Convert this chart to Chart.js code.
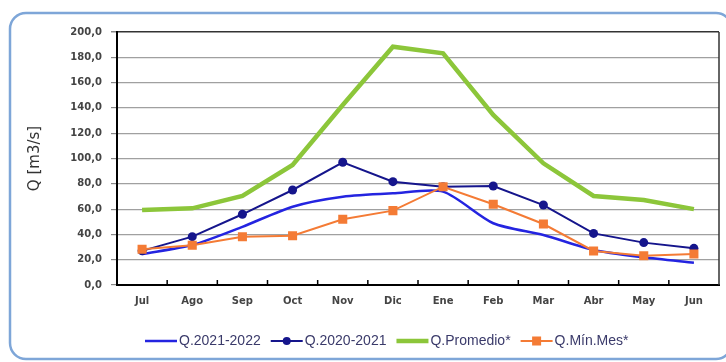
<!DOCTYPE html>
<html>
<head>
<meta charset="utf-8">
<title>Caudales mensuales</title>
<script src="https://cdn.jsdelivr.net/npm/chart.js@4.4.1/dist/chart.umd.min.js"></script>
<style>
  html, body { margin: 0; padding: 0; background: #ffffff; }
  #caudalChart { display: block; }
</style>
</head>
<body>
<canvas id="caudalChart" width="726" height="362"></canvas>
<script>
// months of the hydrological year (Jul - Jun)
const months = ['Jul', 'Ago', 'Sep', 'Oct', 'Nov', 'Dic', 'Ene', 'Feb', 'Mar', 'Abr', 'May', 'Jun'];

// flows in m3/s
const q2122 = [24.5, 31.6, 46.0, 61.9, 69.8, 72.5, 73.8, 48.8, 39.5, 27.7, 21.9, 17.6];
const q2021 = [27.0, 38.2, 55.9, 75.1, 97.0, 81.7, 77.7, 78.3, 63.2, 40.8, 33.5, 29.0];
const qPromedio = [59.3, 60.6, 70.4, 94.9, 142.3, 188.4, 183.2, 134.4, 96.2, 70.4, 67.2, 60.0];
const qMinMes = [28.2, 31.4, 38.2, 39.0, 51.9, 58.8, 77.7, 63.8, 48.2, 26.9, 23.2, 24.5];

const yTicks = [0, 20, 40, 60, 80, 100, 120, 140, 160, 180, 200];

const tickFont = { family: 'DejaVu Sans', size: 10, weight: 'bold' };

// rounded light-blue frame around the whole chart
const frame = {
  id: 'frame',
  beforeDraw(chart) {
    const ctx = chart.ctx;
    ctx.save();
    ctx.fillStyle = '#ffffff';
    ctx.fillRect(0, 0, chart.width, chart.height);
    ctx.strokeStyle = '#7ea6d8';
    ctx.lineWidth = 2.5;
    ctx.beginPath();
    ctx.roundRect(10, 13, 722, 346, 16);
    ctx.stroke();
    ctx.restore();
  },
  beforeDatasetsDraw(chart) {
    const { ctx, chartArea: a, scales: { x } } = chart;
    ctx.save();
    // right edge of the plot box
    ctx.strokeStyle = '#333333';
    ctx.lineWidth = 1.5;
    ctx.beginPath();
    ctx.moveTo(a.right, a.top);
    ctx.lineTo(a.right, a.bottom);
    ctx.stroke();
    // short category separators standing on the x axis
    ctx.strokeStyle = '#000000';
    ctx.lineWidth = 1.5;
    for (let i = 1; i < months.length; i++) {
      const px = (x.getPixelForValue(i - 1) + x.getPixelForValue(i)) / 2;
      ctx.beginPath();
      ctx.moveTo(px, a.bottom);
      ctx.lineTo(px, a.bottom - 5);
      ctx.stroke();
    }
    ctx.restore();
  }
};

// legend row: line sample with optional marker, then label
const lineLegend = {
  id: 'lineLegend',
  afterDraw(chart) {
    const ctx = chart.ctx;
    const items = chart.data.datasets.slice().sort((a, b) => a.legendIndex - b.legendIndex);
    ctx.save();
    ctx.font = '14px "Liberation Sans"';
    ctx.textBaseline = 'middle';
    let x = 145;
    const y = 341;
    items.forEach(ds => {
      ctx.strokeStyle = ds.borderColor;
      ctx.lineWidth = ds.borderWidth;
      ctx.beginPath();
      ctx.moveTo(x, y);
      ctx.lineTo(x + 32, y);
      ctx.stroke();
      if (ds.pointRadius > 0) {
        ctx.fillStyle = ds.pointBackgroundColor;
        if (ds.pointStyle === 'rect') {
          ctx.fillRect(x + 16 - 4.5, y - 4.5, 9, 9);
        } else {
          ctx.beginPath();
          ctx.arc(x + 16, y, 4, 0, Math.PI * 2);
          ctx.fill();
        }
      }
      ctx.fillStyle = '#3a3a6a';
      ctx.fillText(ds.label, x + 34, y);
      x += 34 + ctx.measureText(ds.label).width + 10;
    });
    ctx.restore();
  }
};

const ctx = document.getElementById('caudalChart').getContext('2d');
const chart = new Chart(ctx, {
  type: 'line',
  data: {
    labels: months,
    datasets: [
      {
        label: 'Q.2021-2022',
        data: q2122,
        borderColor: '#2424e0',
        borderWidth: 2.5,
        pointRadius: 0,
        tension: 0.25,
        order: 4,
        legendIndex: 0
      },
      {
        label: 'Q.2020-2021',
        data: q2021,
        borderColor: '#15158c',
        borderWidth: 2,
        pointRadius: 4.5,
        pointStyle: 'circle',
        pointBackgroundColor: '#15158c',
        pointBorderColor: '#15158c',
        pointBorderWidth: 0,
        tension: 0,
        order: 3,
        legendIndex: 1
      },
      {
        label: 'Q.Promedio*',
        data: qPromedio,
        borderColor: '#8cc63a',
        borderWidth: 4.5,
        pointRadius: 0,
        tension: 0,
        order: 2,
        legendIndex: 2
      },
      {
        label: 'Q.Mín.Mes*',
        data: qMinMes,
        borderColor: '#f47b35',
        borderWidth: 2,
        pointRadius: 6.4,
        pointStyle: 'rect',
        pointBackgroundColor: '#f47b35',
        pointBorderColor: '#f47b35',
        pointBorderWidth: 0,
        tension: 0,
        order: 1,
        legendIndex: 3
      }
    ]
  },
  options: {
    responsive: false,
    animation: false,
    devicePixelRatio: 1,
    layout: { padding: { left: 0, top: 32, right: 7, bottom: 0 } },
    plugins: {
      legend: { display: false },
      tooltip: { enabled: false }
    },
    scales: {
      x: {
        offset: true,
        grid: { display: false, drawTicks: false },
        border: { display: true, color: '#000000', width: 2 },
        ticks: {
          font: tickFont,
          color: '#444444',
          padding: 10,
          maxRotation: 0,
          autoSkip: false
        },
        afterFit(scale) { scale.height = 77; }
      },
      y: {
        min: 0,
        max: 200,
        afterBuildTicks(scale) { scale.ticks = yTicks.map(v => ({ value: v })); },
        grid: {
          color: c => (c.tick && c.tick.value === 200 ? '#333333' : '#a0a0a0'),
          lineWidth: c => (c.tick && c.tick.value === 200 ? 1.5 : 1.2),
          tickLength: 6,
          tickColor: '#888888'
        },
        border: { display: true, color: '#000000', width: 2 },
        ticks: {
          font: tickFont,
          color: '#444444',
          padding: 9,
          callback: v => v.toFixed(1).replace('.', ',')
        },
        title: {
          display: true,
          text: 'Q [m3/s]',
          font: { family: 'DejaVu Sans', size: 15 },
          color: '#333333',
          padding: { top: 26, bottom: 0 }
        },
        afterFit(scale) { scale.width = 117; }
      }
    }
  },
  plugins: [frame, lineLegend]
});
</script>
</body>
</html>
